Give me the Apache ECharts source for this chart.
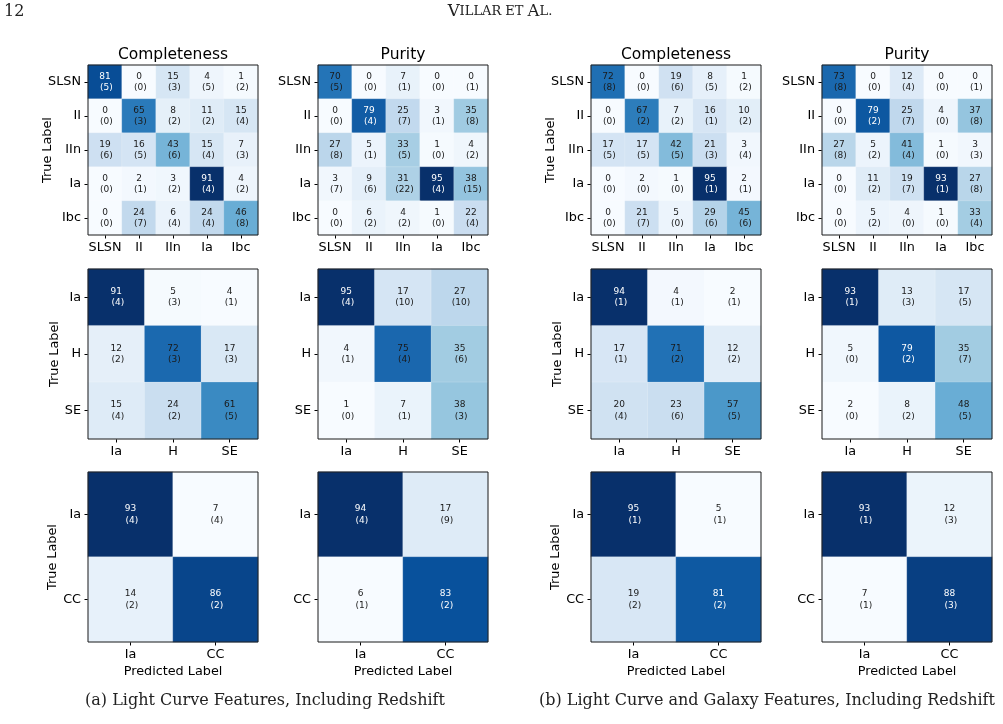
<!DOCTYPE html>
<html>
<head>
<meta charset="utf-8">
<script src="https://cdn.jsdelivr.net/npm/echarts@6/dist/echarts.min.js"></script>
<style>
html,body{margin:0;padding:0;background:#fff;}
#chart{width:1003px;height:724px;}
</style>
</head>
<body>
<div id="chart"></div>
<script>
// ---------- categories ----------
const classes5 = ['SLSN', 'II', 'IIn', 'Ia', 'Ibc'];
const classes3 = ['Ia', 'H', 'SE'];
const classes2 = ['Ia', 'CC'];

// ---------- (a) Light Curve Features, Including Redshift ----------
const completenessA5    = [[81,0,15,4,1],[0,65,8,11,15],[19,16,43,15,7],[0,2,3,91,4],[0,24,6,24,46]];
const completenessA5Err = [[5,0,3,5,2],[0,3,2,2,4],[6,5,6,4,3],[0,1,2,4,2],[0,7,4,4,8]];
const purityA5          = [[70,0,7,0,0],[0,79,25,3,35],[27,5,33,1,4],[3,9,31,95,38],[0,6,4,1,22]];
const purityA5Err       = [[5,0,1,0,1],[0,4,7,1,8],[8,1,5,0,2],[7,6,22,4,15],[0,2,2,0,4]];
const completenessA3    = [[91,5,4],[12,72,17],[15,24,61]];
const completenessA3Err = [[4,3,1],[2,3,3],[4,2,5]];
const purityA3          = [[95,17,27],[4,75,35],[1,7,38]];
const purityA3Err       = [[4,10,10],[1,4,6],[0,1,3]];
const completenessA2    = [[93,7],[14,86]];
const completenessA2Err = [[4,4],[2,2]];
const purityA2          = [[94,17],[6,83]];
const purityA2Err       = [[4,9],[1,2]];

// ---------- (b) Light Curve and Galaxy Features, Including Redshift ----------
const completenessB5    = [[72,0,19,8,1],[0,67,7,16,10],[17,17,42,21,3],[0,2,1,95,2],[0,21,5,29,45]];
const completenessB5Err = [[8,0,6,5,2],[0,2,2,1,2],[5,5,5,3,4],[0,0,0,1,1],[0,7,0,6,6]];
const purityB5          = [[73,0,12,0,0],[0,79,25,4,37],[27,5,41,1,3],[0,11,19,93,27],[0,5,4,1,33]];
const purityB5Err       = [[8,0,4,0,1],[0,2,7,0,8],[8,2,4,0,3],[0,2,7,1,8],[0,2,0,0,4]];
const completenessB3    = [[94,4,2],[17,71,12],[20,23,57]];
const completenessB3Err = [[1,1,1],[1,2,2],[4,6,5]];
const purityB3          = [[93,13,17],[5,79,35],[2,8,48]];
const purityB3Err       = [[1,3,5],[0,2,7],[0,2,5]];
const completenessB2    = [[95,5],[19,81]];
const completenessB2Err = [[1,1],[2,2]];
const purityB2          = [[93,12],[7,88]];
const purityB2Err       = [[1,3],[1,3]];

// ---------- text ----------
const columnTitles = ['Completeness', 'Purity'];
const yAxisName = 'True Label';
const xAxisName = 'Predicted Label';
const captionA = '(a) Light Curve Features, Including Redshift';
const captionB = '(b) Light Curve and Galaxy Features, Including Redshift';

// ---------- layout / style ----------
const BLUES = ['#f7fbff','#deebf7','#c6dbef','#9ecae1','#6baed6','#4292c6','#2171b5','#08519c','#08306b'];
const FONT = 'DejaVu Sans';
const SERIF = 'DejaVu Serif';
const colLeft = [88, 318, 591, 822];
const rowTop = [65, 269, 472];
const SIZE = 170;
const yGapByRow = [33.5, 26.5, 29];

const panelData = [
  [[classes5, completenessA5, completenessA5Err], [classes5, purityA5, purityA5Err], [classes5, completenessB5, completenessB5Err], [classes5, purityB5, purityB5Err]],
  [[classes3, completenessA3, completenessA3Err], [classes3, purityA3, purityA3Err], [classes3, completenessB3, completenessB3Err], [classes3, purityB3, purityB3Err]],
  [[classes2, completenessA2, completenessA2Err], [classes2, purityA2, purityA2Err], [classes2, completenessB2, completenessB2Err], [classes2, purityB2, purityB2Err]]
];

const grid = [], xAxis = [], yAxis = [], series = [], visualMap = [], title = [];
let idx = 0;
panelData.forEach((row, r) => {
  row.forEach((p, c) => {
    const [cats, vals, errs] = p;
    const flat = vals.flat();
    const vmin = Math.min(...flat), vmax = Math.max(...flat);
    grid.push({left: colLeft[c], top: rowTop[r], width: SIZE, height: SIZE,
      show: true, borderColor: '#1a1a1a', borderWidth: 1, backgroundColor: 'transparent', z: 10, containLabel: false});
    xAxis.push({type: 'category', gridIndex: idx, data: cats, position: 'bottom',
      axisLine: {show: false},
      axisTick: {show: true, alignWithLabel: true, length: 3.5, lineStyle: {color: '#000', width: 1}},
      axisLabel: {show: true, interval: 0, hideOverlap: false, margin: 6, fontFamily: FONT, fontSize: 12.8, color: '#000'},
      splitLine: {show: false},
      name: r === 2 ? xAxisName : '', nameLocation: 'middle', nameGap: 23, nameMoveOverlap: false,
      nameTextStyle: {fontFamily: FONT, fontSize: 12.8, color: '#000'}});
    yAxis.push({type: 'category', gridIndex: idx, data: cats, inverse: true,
      axisLine: {show: false},
      axisTick: {show: true, alignWithLabel: true, length: 3.5, lineStyle: {color: '#000', width: 1}},
      axisLabel: {show: true, interval: 0, hideOverlap: false, margin: 7, fontFamily: FONT, fontSize: 12.8, color: '#000'},
      splitLine: {show: false},
      name: (c === 0 || c === 2) ? yAxisName : '', nameLocation: 'middle', nameGap: yGapByRow[r], nameRotate: 90,
      nameMoveOverlap: false,
      nameTextStyle: {fontFamily: FONT, fontSize: 12.8, color: '#000'}});
    const data = [];
    vals.forEach((rowVals, yi) => rowVals.forEach((v, xi) => {
      data.push({value: [xi, yi, v, errs[yi][xi]],
        label: {color: v >= 0.8 * vmax ? '#ffffff' : '#1a1a1a'}});
    }));
    series.push({type: 'heatmap', xAxisIndex: idx, yAxisIndex: idx, data: data,
      itemStyle: {borderColor: 'rgba(255,255,255,0.18)', borderWidth: 1},
      label: {show: true, fontFamily: FONT, fontSize: 9, lineHeight: 11.5,
        formatter: (pp) => pp.value[2] + '\n (' + pp.value[3] + ')'},
      emphasis: {disabled: true}});
    visualMap.push({type: 'continuous', show: false, seriesIndex: idx, dimension: 2,
      min: vmin, max: vmax, inRange: {color: BLUES}});
    if (r === 0) {
      title.push({text: columnTitles[c % 2], left: colLeft[c] + SIZE / 2, top: 46, textAlign: 'center', padding: 0,
        textStyle: {fontFamily: FONT, fontSize: 15.5, fontWeight: 'normal', color: '#000', lineHeight: 18}});
    }
    idx++;
  });
});

title.push({text: captionA, left: 265, top: 691, textAlign: 'center', padding: 0,
  textStyle: {fontFamily: SERIF, fontSize: 16, fontWeight: 'normal', color: '#222', lineHeight: 20}});
title.push({text: captionB, left: 767, top: 691, textAlign: 'center', padding: 0,
  textStyle: {fontFamily: SERIF, fontSize: 16, fontWeight: 'normal', color: '#222', lineHeight: 20}});
title.push({text: '12', left: 4, top: 3, padding: 0,
  textStyle: {fontFamily: SERIF, fontSize: 16, fontWeight: 'normal', color: '#222', lineHeight: 18}});
title.push({text: '{a|V}{b|ILLAR ET }{a|A}{b|L.}', left: 500, top: 3, textAlign: 'center', padding: 0,
  textStyle: {fontFamily: SERIF, fontWeight: 'normal', color: '#222', lineHeight: 18,
    rich: {a: {fontFamily: SERIF, fontWeight: 'normal', fontSize: 16.5, color: '#222'},
           b: {fontFamily: SERIF, fontWeight: 'normal', fontSize: 13, color: '#222'}}}});

const chart = echarts.init(document.getElementById('chart'), null, {renderer: 'canvas'});
chart.setOption({animation: false, backgroundColor: '#fff', title, grid, xAxis, yAxis, visualMap, series});
</script>
</body>
</html>
